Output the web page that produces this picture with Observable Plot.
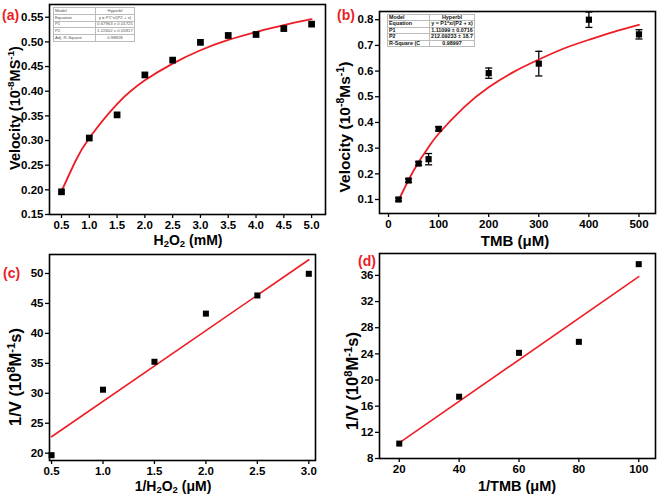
<!DOCTYPE html>
<html>
<head>
<meta charset="utf-8">
<script src="https://cdn.jsdelivr.net/npm/d3@7"></script>
<script src="https://cdn.jsdelivr.net/npm/@observablehq/plot@0.6"></script>
<style>
  body { margin: 0; background: white; }
  #wrap { position: relative; width: 660px; height: 494px; background: white; overflow: hidden;
          font-family: "Liberation Sans", Arial, sans-serif; }
  .panel { position: absolute; }
  .lbl { position: absolute; white-space: nowrap; font-weight: bold; color: black; line-height: 1; }
  .lbl sup, .lbl sub { font-size: 0.68em; line-height: 0; }
  .lbl sup { vertical-align: 0.55em; }
  .lbl sub { vertical-align: -0.25em; }
  .rot { transform: translate(-50%, -50%) rotate(-90deg); }
  .hor { transform: translate(-50%, -50%); }
  .tag { position: absolute; color: #ee1c25; font-weight: bold; font-size: 14px; line-height: 1; transform: translateY(-50%); }
  table.fit { position: absolute; border-collapse: collapse; background: white; }
  table.fit td { border: 0.5px solid #bbb; padding: 0 1px; line-height: 1; white-space: nowrap; overflow: hidden; }
  table.fit td:nth-child(2) { text-align: center; }
</style>
</head>
<body>
<div id="wrap"></div>
<script>
// ---------- data ----------
// (a) velocity vs H2O2
const aX = [0.5, 1.0, 1.5, 2.0, 2.5, 3.0, 3.5, 4.0, 4.5, 5.0];
const aY = [0.196, 0.305, 0.352, 0.433, 0.463, 0.499, 0.513, 0.515, 0.527, 0.536];
const aFitX = [0.5, 0.75, 1.0, 1.5, 2.0, 2.5, 3.0, 3.5, 4.0, 4.5, 5.0];
const aFitY = [0.197, 0.258, 0.305, 0.374, 0.422, 0.456, 0.483, 0.504, 0.520, 0.534, 0.546];
const aXTicks = [0.5, 1.0, 1.5, 2.0, 2.5, 3.0, 3.5, 4.0, 4.5, 5.0];
const aYTicks = [0.15, 0.20, 0.25, 0.30, 0.35, 0.40, 0.45, 0.50, 0.55];
const aTable = [["Model", "Hyperbl"], ["Equation", "y = P1*x/(P2 + x)"], ["P1", "0.67963 ± 0.01725"], ["P2", "1.22602 ± 0.05817"], ["Adj. R-Square", "0.98828"]];

// (b) velocity vs TMB
const bX = [20, 40, 60, 80, 100, 200, 300, 400, 500];
const bY = [0.100, 0.174, 0.240, 0.257, 0.375, 0.592, 0.629, 0.800, 0.743];
const bErr = [0.006, 0.007, 0.007, 0.022, 0.008, 0.020, 0.048, 0.030, 0.018];
const bFitX = [20, 40, 60, 80, 100, 150, 200, 250, 300, 350, 400, 450, 500];
const bFitY = [0.096, 0.176, 0.245, 0.304, 0.356, 0.458, 0.537, 0.597, 0.645, 0.688, 0.722, 0.753, 0.780];
const bXTicks = [0, 100, 200, 300, 400, 500];
const bYTicks = [0.1, 0.2, 0.3, 0.4, 0.5, 0.6, 0.7, 0.8];
const bTable = [["Model", "Hyperbl"], ["Equation", "y = P1*x/(P2 + x)"], ["P1", "1.11099 ± 0.0716"], ["P2", "212.09233 ± 18.7"], ["R-Square (C", "0.98997"]];

// (c) Lineweaver-Burk, H2O2
const cX = [0.5, 1.0, 1.5, 2.0, 2.5, 3.0];
const cY = [19.67, 30.6, 35.26, 43.3, 46.33, 49.95];
const cLineX = [0.5, 3.0];
const cLineY = [22.74, 52.29];
const cXTicks = [0.5, 1.0, 1.5, 2.0, 2.5, 3.0];
const cYTicks = [20, 25, 30, 35, 40, 45, 50];

// (d) Lineweaver-Burk, TMB
const dX = [20, 40, 60, 80, 100];
const dY = [10.28, 17.45, 24.16, 25.84, 37.72];
const dLineX = [20, 100];
const dLineY = [10.39, 35.8];
const dXTicks = [20, 40, 60, 80, 100];
const dYTicks = [8, 12, 16, 20, 24, 28, 32, 36];

// ---------- helpers ----------
const RED = "#ee1c25";
const wrap = document.getElementById("wrap");
const pts = (xs, ys, extra) => xs.map((x, i) => ({x, y: ys[i], ...(extra ? {e: extra[i]} : {})}));

const capSymbol = {
  draw(context, size) {
    const w = Math.sqrt(size) / 2;
    context.moveTo(-w, 0);
    context.lineTo(w, 0);
  }
};

function panel({left, top, margins, xDomain, yDomain, xTicks, yTicks, xFmt, yFmt, marks}) {
  const [mt, mr, mb, ml] = margins;
  const chart = Plot.plot({
    width: 330, height: 247,
    marginTop: mt, marginRight: mr, marginBottom: mb, marginLeft: ml,
    style: {fontFamily: "Liberation Sans, Arial, sans-serif", fontSize: "11.5px", fontWeight: "bold", color: "black", background: "transparent", overflow: "visible"},
    x: {domain: xDomain},
    y: {domain: yDomain},
    marks: [
      ...marks,
      Plot.frame({stroke: "black", strokeWidth: 1.6}),
      Plot.axisX(xTicks, {tickSize: 4, tickPadding: 2, tickFormat: xFmt, label: null, strokeWidth: 1.3}),
      Plot.axisY(yTicks, {tickSize: 4, tickPadding: 2, tickFormat: yFmt, label: null, strokeWidth: 1.3})
    ]
  });
  const d = document.createElement("div");
  d.className = "panel";
  d.style.left = left + "px";
  d.style.top = top + "px";
  d.appendChild(chart);
  wrap.appendChild(d);
}

function label(html, x, y, size, rotate) {
  const d = document.createElement("div");
  d.className = "lbl " + (rotate ? "rot" : "hor");
  d.style.left = x + "px";
  d.style.top = y + "px";
  d.style.fontSize = size + "px";
  d.innerHTML = html;
  wrap.appendChild(d);
}

function tag(text, x, y) {
  const d = document.createElement("div");
  d.className = "tag";
  d.style.left = x + "px";
  d.style.top = y + "px";
  d.textContent = text;
  wrap.appendChild(d);
}

function table(rows, {left, top, width, height, col1, fontSize, color, bold}) {
  const t = document.createElement("table");
  t.className = "fit";
  t.style.left = left + "px";
  t.style.top = top + "px";
  t.style.width = width + "px";
  t.style.height = height + "px";
  t.style.fontSize = fontSize + "px";
  t.style.color = color;
  t.style.fontWeight = bold ? "bold" : "normal";
  rows.forEach(r => {
    const tr = document.createElement("tr");
    r.forEach((c, i) => {
      const td = document.createElement("td");
      td.textContent = c;
      if (i === 0) td.style.width = col1 + "px";
      tr.appendChild(td);
    });
    t.appendChild(tr);
  });
  wrap.appendChild(t);
}

const f1 = d3.format(".1f"), f2 = d3.format(".2f"), f0 = d3.format("d");

// ---------- (a) ----------
panel({
  left: 0, top: 0, margins: [4, 5, 33, 49],
  xDomain: [0.284, 5.25], yDomain: [0.15, 0.5758],
  xTicks: aXTicks, yTicks: aYTicks, xFmt: f1, yFmt: f2,
  marks: [
    Plot.line(pts(aFitX, aFitY), {x: "x", y: "y", stroke: RED, strokeWidth: 1.8, curve: "natural"}),
    Plot.dot(pts(aX, aY), {x: "x", y: "y", symbol: "square", r: 3.8, fill: "black", stroke: "none"})
  ]
});

// ---------- (b) ----------
panel({
  left: 330, top: 0, margins: [11, 5, 34, 49],
  xDomain: [-18, 533], yDomain: [0.0455, 0.832],
  xTicks: bXTicks, yTicks: bYTicks, xFmt: f0, yFmt: f1,
  marks: [
    Plot.ruleX(pts(bX, bY, bErr), {x: "x", y1: d => d.y - d.e, y2: d => d.y + d.e, stroke: "black", strokeWidth: 1.3}),
    Plot.dot(pts(bX, bY, bErr), {x: "x", y: d => d.y - d.e, symbol: capSymbol, r: 4, stroke: "black", strokeWidth: 1.3, fill: "none"}),
    Plot.dot(pts(bX, bY, bErr), {x: "x", y: d => d.y + d.e, symbol: capSymbol, r: 4, stroke: "black", strokeWidth: 1.3, fill: "none"}),
    Plot.line(pts(bFitX, bFitY), {x: "x", y: "y", stroke: RED, strokeWidth: 1.8, curve: "natural"}),
    Plot.dot(pts(bX, bY), {x: "x", y: "y", symbol: "square", r: 3.5, fill: "black", stroke: "none"})
  ]
});

// ---------- (c) ----------
panel({
  left: 0, top: 247, margins: [7, 15, 34, 49],
  xDomain: [0.48, 3.065], yDomain: [18.78, 53.17],
  xTicks: cXTicks, yTicks: cYTicks, xFmt: f1, yFmt: f0,
  marks: [
    Plot.line(pts(cLineX, cLineY), {x: "x", y: "y", stroke: RED, strokeWidth: 1.6}),
    Plot.dot(pts(cX, cY), {x: "x", y: "y", symbol: "square", r: 3.4, fill: "black", stroke: "none"})
  ]
});

// ---------- (d) ----------
panel({
  left: 330, top: 247, margins: [6, 5, 36, 49],
  xDomain: [13.4, 105.6], yDomain: [8, 39.35],
  xTicks: dXTicks, yTicks: dYTicks, xFmt: f0, yFmt: f0,
  marks: [
    Plot.line(pts(dLineX, dLineY), {x: "x", y: "y", stroke: RED, strokeWidth: 1.6}),
    Plot.dot(pts(dX, dY), {x: "x", y: "y", symbol: "square", r: 3.4, fill: "black", stroke: "none"})
  ]
});

// ---------- axis titles ----------
label("Velocity (10<sup>-8</sup>MS<sup>-1</sup>)", 15, 108, 14.5, true);
label("H<sub>2</sub>O<sub>2</sub> (mM)", 188, 240, 14, false);
label("Velocity (10<sup>-8</sup>Ms<sup>-1</sup>)", 345, 127, 15.5, true);
label("TMB (μM)", 515, 240, 15, false);
label("1/V (10<sup>8</sup>M<sup>-1</sup>s)", 15, 377, 16.5, true);
label("1/H<sub>2</sub>O<sub>2</sub> (μM)", 173, 486, 14, false);
label("1/V (10<sup>8</sup>M<sup>-1</sup>s)", 352, 381, 16.5, true);
label("1/TMB (μM)", 517, 486, 14.5, false);

// ---------- panel tags ----------
tag("(a)", 2, 15);
tag("(b)", 337, 15);
tag("(c)", 3, 273);
tag("(d)", 358, 261);

// ---------- fit tables ----------
table(aTable, {left: 53, top: 7, width: 82, height: 35, col1: 39, fontSize: 4.3, color: "#555", bold: false});
table(bTable, {left: 387, top: 14, width: 88, height: 33, col1: 39, fontSize: 5.4, color: "#111", bold: true});
</script>
</body>
</html>
